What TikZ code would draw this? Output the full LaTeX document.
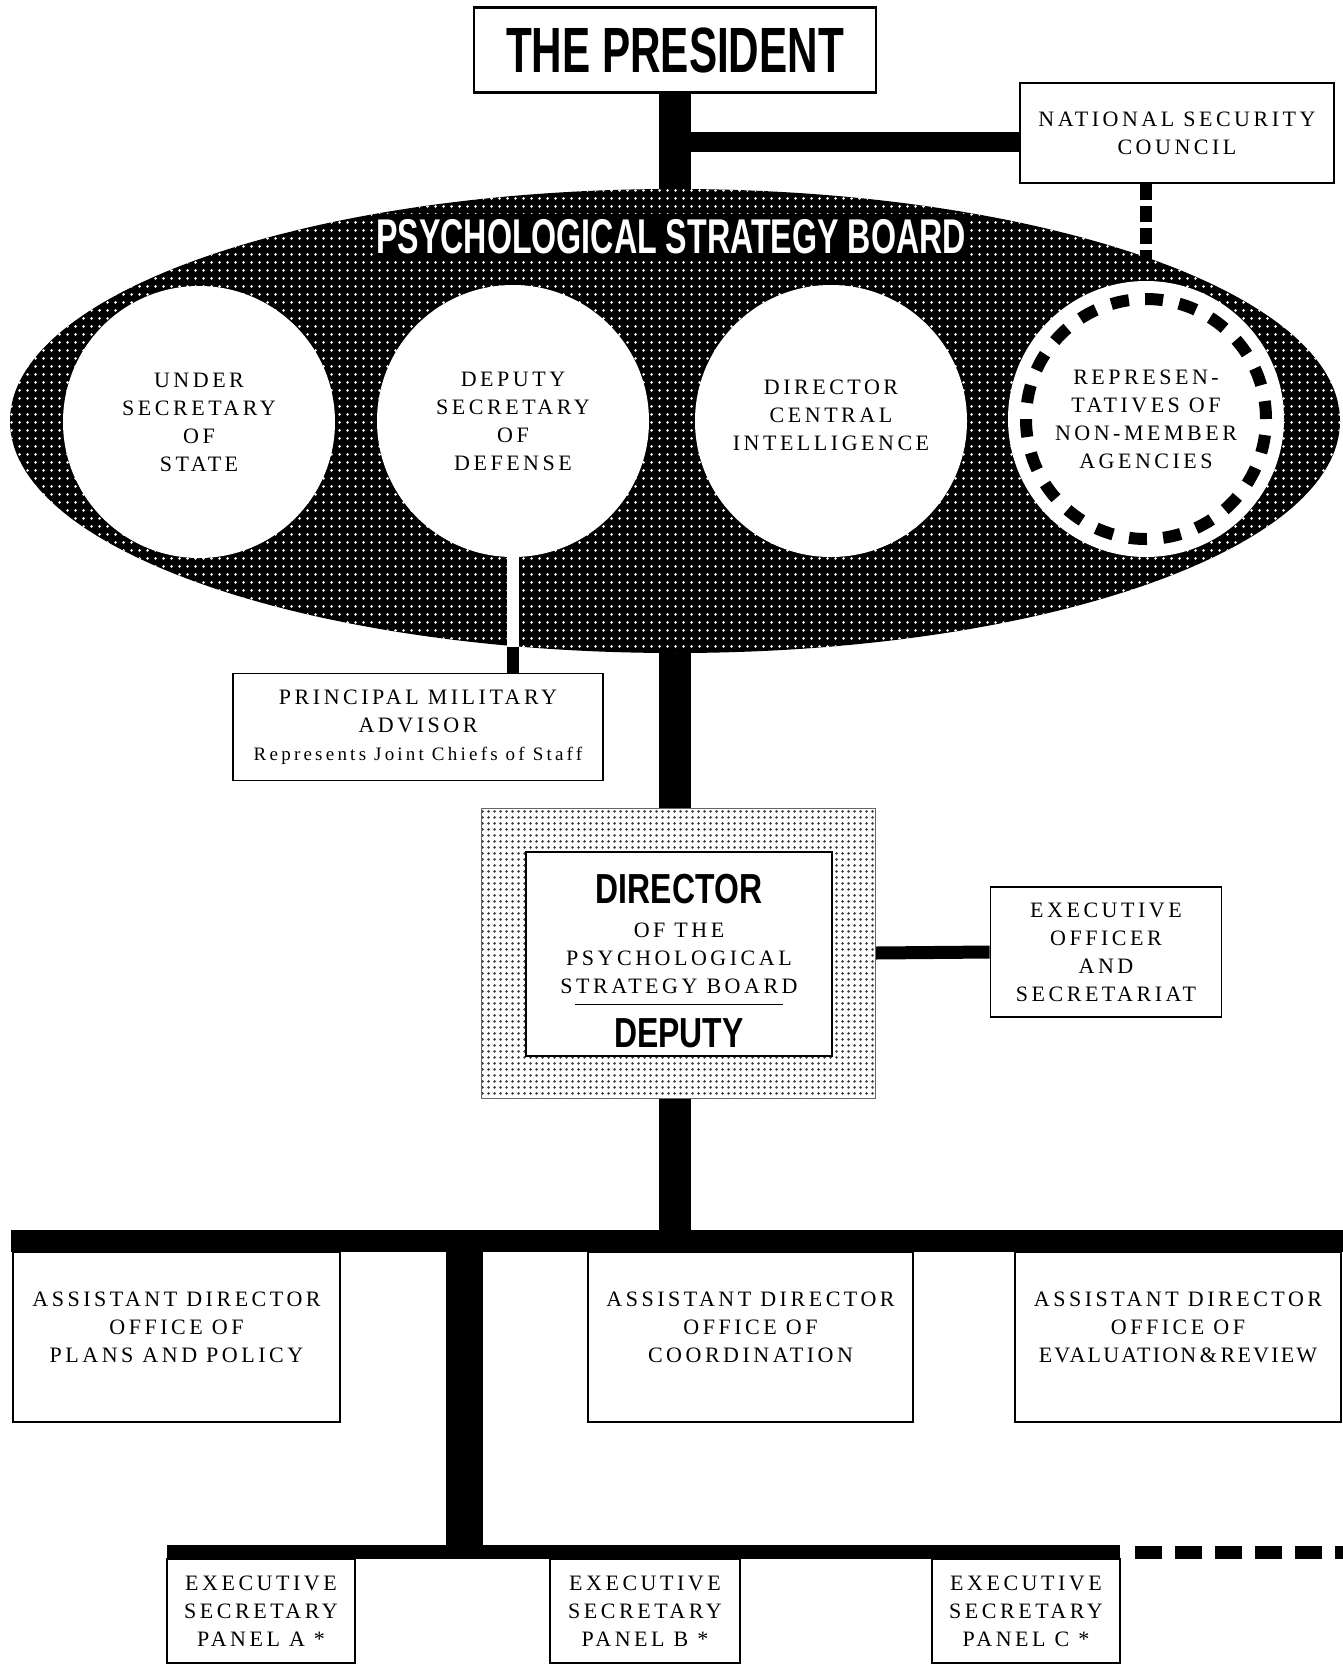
\documentclass[tikz,border=0pt]{standalone}
\usepackage{fontspec}
\setmainfont{Liberation Serif}
\newfontfamily\chart[LetterSpace=16]{Liberation Serif}
\newfontfamily\gothic[FakeStretch=0.66]{Liberation Sans Bold}
\newfontfamily\gothicwide[FakeStretch=0.76]{Liberation Sans Bold}
\usetikzlibrary{shapes.geometric,backgrounds,patterns.meta}
\tikzdeclarepattern{
  name=boarddots,
  type=uncolored,
  bounding box={(0pt,0pt) and (4pt,4pt)},
  tile size={(4pt,4pt)},
  code={\fill (2pt,2pt) circle [radius=0.8pt];}
}
\tikzdeclarepattern{
  name=stipple,
  type=uncolored,
  bounding box={(0pt,0pt) and (3pt,3pt)},
  tile size={(3pt,3pt)},
  code={\fill (1.5pt,1.5pt) circle [radius=0.85pt];}
}

\begin{document}
\begin{tikzpicture}[x=0.5pt, y=-0.5pt,
    orgbox/.style={draw, line width=0.9pt, fill=white, align=center, inner sep=1pt, font=\chart\fontsize{11}{14}\selectfont},
    member/.style={circle, fill=white, minimum size=136pt, inner sep=0pt, align=center, font=\chart\fontsize{11}{14}\selectfont},
    trunk/.style={line width=#1},
    nscdash/.style={line width=6pt, dash pattern=on 8pt off 3pt},
    ringdash/.style={line width=6pt, dash pattern=on 9pt off 8.14pt},
    lowdash/.style={line width=6.5pt, dash pattern=on 13.5pt off 6.5pt}]
    \useasboundingbox (0,0) rectangle (1343,1666);

    % Nodes
    \node (pres) [orgbox, line width=1.3pt, minimum width=201pt, minimum height=42.5pt, font=\gothic\fontsize{32}{34}\selectfont] at (675,50) {THE PRESIDENT};
    \node (nsc) [orgbox, line width=0.7pt, minimum width=157pt, minimum height=50pt] at (1177,133) {NATIONAL SECURITY\\COUNCIL};
    \node (psb) [ellipse, preaction={fill=black}, pattern=boarddots, pattern color=white, minimum width=665pt, minimum height=232pt, inner sep=0pt] at (675,421) {};
    \node (band) [fill=black, text=white, minimum width=297pt, minimum height=23.5pt, inner sep=0pt, font=\gothic\fontsize{24.4}{26}\selectfont] at (671,237) {PSYCHOLOGICAL STRATEGY BOARD};
    \node (c1) [member] at (199,422) {UNDER\\SECRETARY\\OF\\STATE};
    \node (c2) [member] at (513,421) {DEPUTY\\SECRETARY\\OF\\DEFENSE};
    \node (c3) [member, text depth=6pt] at (831,421) {DIRECTOR\\CENTRAL\\INTELLIGENCE};
    \node (c4) [member, minimum size=138pt] at (1146,419) {REPRESEN-\\TATIVES OF\\NON-MEMBER\\AGENCIES};
    \draw[ringdash] (c4.center) circle [radius=60pt];
    \node (pma) [orgbox, minimum width=185pt, minimum height=53.5pt] at (418,727) {PRINCIPAL MILITARY\\ADVISOR\\{\fontsize{9.5}{14}\addfontfeature{LetterSpace=17}Represents Joint Chiefs of Staff}};
    \node (dirout) [draw=black!60, line width=0.4pt, preaction={fill=white}, pattern=stipple, pattern color=black!75, minimum width=197pt, minimum height=145pt] at (678,953) {};
    \node (dir) [orgbox, minimum width=153pt, minimum height=102pt] at (679,954) {{\gothicwide\fontsize{21}{24}\selectfont\rule{0pt}{21.4pt}DIRECTOR}\\[3pt]
        OF THE\\PSYCHOLOGICAL\\STRATEGY BOARD\\[-8pt]\rule{104pt}{0.8pt}\\[5.5pt]
        {\gothicwide\fontsize{21}{24}\selectfont DEPUTY}};
    \node (exec) [orgbox, minimum width=115.5pt, minimum height=65pt] at (1106,952) {EXECUTIVE\\OFFICER\\AND\\SECRETARIAT};
    \node (ad1) [orgbox, text depth=10pt, minimum width=163.5pt, minimum height=85pt] at (176.5,1337) {ASSISTANT DIRECTOR\\OFFICE OF\\PLANS AND POLICY};
    \node (ad2) [orgbox, text depth=10pt, minimum width=162.5pt, minimum height=85pt] at (750.5,1337) {ASSISTANT DIRECTOR\\OFFICE OF\\COORDINATION};
    \node (ad3) [orgbox, text depth=10pt, minimum width=163pt, minimum height=85pt] at (1178,1337) {ASSISTANT DIRECTOR\\OFFICE OF\\{\addfontfeature{LetterSpace=10}EVALUATION\,\&\,REVIEW}};
    \node (pana) [orgbox, minimum width=94pt, minimum height=52pt] at (261,1611) {EXECUTIVE\\SECRETARY\\PANEL A *};
    \node (panb) [orgbox, minimum width=95pt, minimum height=52pt] at (645,1611) {EXECUTIVE\\SECRETARY\\PANEL B *};
    \node (panc) [orgbox, minimum width=94pt, minimum height=52pt] at (1026,1611) {EXECUTIVE\\SECRETARY\\PANEL C *};

    % Connectors
    \begin{scope}[on background layer]
        \coordinate (nscjoin) at (675,142);
        \coordinate (hbarL) at (11,1241);
        \coordinate (hbarR) at (1343,1241);
        \coordinate (lowjoin) at (464,1241);
        \coordinate (lowL) at (167,1552);
        \coordinate (lowR) at (1120,1552);
        \coordinate (lowEnd) at (1343,1552);
        \draw[trunk=16pt] (pres.south) -- (psb.north);
        \draw[trunk=10pt] (nscjoin) -- (nscjoin -| nsc.west);
        \draw[nscdash] (nsc.south -| c4) -- (c4.north);
        \draw[trunk=6pt] (c2.south) -- (c2.south |- pma.north);
        \draw[trunk=16pt] (psb.south) -- (dirout.north -| psb.south);
        \draw[trunk=6.5pt] (dirout.east) -- (exec.west);
        \draw[trunk=16pt] (dirout.south -| psb.south) -- (hbarL -| psb.south);
        \draw[trunk=11pt] (hbarL) -- (hbarR);
        \draw[trunk=18.5pt] (lowjoin) -- (lowjoin |- lowL);
        \draw[trunk=7pt] (lowL) -- (lowR);
        \draw[lowdash] ([xshift=7.5pt]lowR) -- (lowEnd);
    \end{scope}
    \draw[white, line width=6pt] (c2.south) -- (c2.south |- psb.235);
\end{tikzpicture}
\end{document}
